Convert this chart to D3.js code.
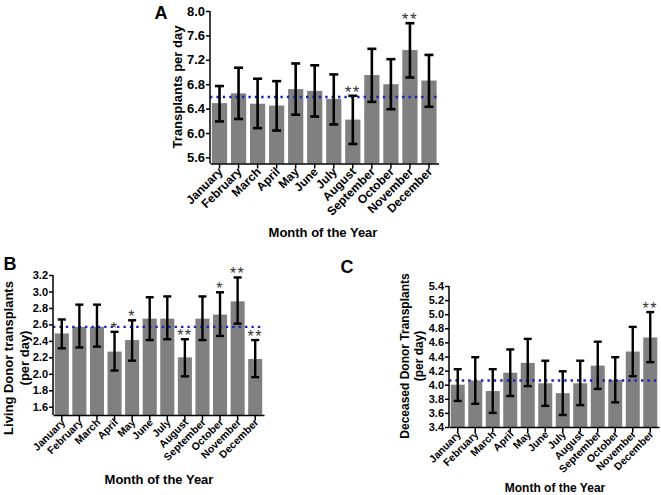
<!DOCTYPE html>
<html>
<head>
<meta charset="utf-8">
<script src="https://cdn.jsdelivr.net/npm/d3@7"></script>
<style>
  html, body { margin: 0; padding: 0; background: #fff; }
  svg { display: block; font-family: Arial, "Liberation Sans", sans-serif; }
</style>
</head>
<body>
<svg id="chart" width="661" height="495"></svg>
<script>
const months = ["January","February","March","April","May","June","July","August","September","October","November","December"];

// Panel A: total transplants per day
const totalMean = [6.49, 6.65, 6.48, 6.45, 6.72, 6.69, 6.56, 6.22, 6.95, 6.80, 7.36, 6.86];
const totalLow  = [6.19, 6.23, 6.08, 6.04, 6.30, 6.27, 6.14, 5.82, 6.51, 6.39, 6.91, 6.43];
const totalHigh = [6.77, 7.07, 6.89, 6.85, 7.14, 7.11, 6.96, 6.61, 7.38, 7.21, 7.80, 7.28];
const totalStars = ["", "", "", "", "", "", "", "**", "", "", "**", ""];
const totalAvg = 6.59;
const totalTicks = [5.6, 6.0, 6.4, 6.8, 7.2, 7.6, 8.0];

// Panel B: living donor transplants per day
const livingMean = [2.49, 2.57, 2.57, 2.27, 2.41, 2.67, 2.67, 2.20, 2.67, 2.72, 2.88, 2.18];
const livingLow  = [2.31, 2.32, 2.33, 2.04, 2.16, 2.41, 2.42, 1.97, 2.41, 2.46, 2.61, 1.96];
const livingHigh = [2.66, 2.84, 2.84, 2.51, 2.65, 2.93, 2.94, 2.42, 2.94, 2.99, 3.17, 2.41];
const livingStars = ["", "", "", "*", "*", "", "", "**", "", "*", "**", "**"];
const livingAvg = 2.57;
const livingTicks = [1.6, 1.8, 2.0, 2.2, 2.4, 2.6, 2.8, 3.0, 3.2];

// Panel C: deceased donor transplants per day
const deceasedMean = [4.00, 4.06, 3.91, 4.17, 4.31, 4.02, 3.88, 4.02, 4.27, 4.07, 4.47, 4.67];
const deceasedLow  = [3.77, 3.73, 3.60, 3.84, 3.98, 3.70, 3.57, 3.71, 3.94, 3.75, 4.12, 4.32];
const deceasedHigh = [4.22, 4.39, 4.22, 4.50, 4.65, 4.34, 4.19, 4.34, 4.61, 4.39, 4.82, 5.03];
const deceasedStars = ["", "", "", "", "", "", "", "", "", "", "", "**"];
const deceasedAvg = 4.06;
const deceasedTicks = [3.4, 3.6, 3.8, 4.0, 4.2, 4.4, 4.6, 4.8, 5.0, 5.2, 5.4];

const svg = d3.select("#chart");

function panel(cfg) {
  const g = svg.append("g");
  const x = d3.scaleBand().domain(months).range([cfg.x0, cfg.x1]).paddingInner(0.2).paddingOuter(0.1);
  const y = d3.scaleLinear().domain(cfg.domain).range([cfg.yb, cfg.yt]);
  const rows = months.map((m, i) => ({m, v: cfg.mean[i], lo: cfg.low[i], hi: cfg.high[i], s: cfg.stars[i]}));

  // bars
  g.selectAll("rect.bar").data(rows).join("rect")
    .attr("x", d => x(d.m)).attr("width", x.bandwidth())
    .attr("y", d => y(d.v)).attr("height", d => y(cfg.domain[0]) - y(d.v))
    .attr("fill", "#808080");

  // mean line
  g.append("line")
    .attr("x1", cfg.x0).attr("x2", cfg.x1)
    .attr("y1", y(cfg.avg)).attr("y2", y(cfg.avg))
    .attr("stroke", "#2222bb").attr("stroke-width", 2.4)
    .attr("stroke-dasharray", "2.4,4");

  // error bars
  const cx = d => x(d.m) + x.bandwidth() / 2;
  const capW = cfg.cap;
  const eb = g.selectAll("g.eb").data(rows).join("g").attr("stroke", "#000").attr("stroke-width", cfg.ew);
  eb.append("line").attr("x1", cx).attr("x2", cx).attr("y1", d => y(d.lo)).attr("y2", d => y(d.hi));
  eb.append("line").attr("x1", d => cx(d) - capW).attr("x2", d => cx(d) + capW).attr("y1", d => y(d.hi)).attr("y2", d => y(d.hi));
  eb.append("line").attr("x1", d => cx(d) - capW).attr("x2", d => cx(d) + capW).attr("y1", d => y(d.lo)).attr("y2", d => y(d.lo));

  // stars
  g.selectAll("text.star").data(rows.filter(d => d.s)).join("text")
    .attr("x", cx).attr("y", d => y(d.hi) + cfg.starDy)
    .attr("text-anchor", "middle")
    .attr("font-size", cfg.starSize).attr("fill", "#333")
    .attr("letter-spacing", "1.5px")
    .text(d => d.s);

  // y axis
  const ya = g.append("g").attr("transform", `translate(${cfg.x0},0)`)
    .call(d3.axisLeft(y).tickValues(cfg.ticks).tickFormat(d3.format(".1f")).tickSize(4).tickSizeOuter(0));
  ya.select(".domain").attr("stroke", "#000").attr("stroke-width", 1.5).attr("d", `M0,${cfg.yb}V${cfg.yt}`);
  ya.selectAll(".tick line").attr("stroke", "#000").attr("stroke-width", 1.5);
  ya.selectAll(".tick text").attr("font-size", cfg.tickSize).attr("font-weight", "bold").attr("fill", "#000").attr("x", -5);

  // x axis
  const xa = g.append("g").attr("transform", `translate(0,${cfg.yb})`)
    .call(d3.axisBottom(x).tickSize(5).tickSizeOuter(0));
  xa.select(".domain").attr("stroke", "#000").attr("stroke-width", 1.5);
  xa.selectAll(".tick line").attr("stroke", "#000").attr("stroke-width", 1.5);
  xa.selectAll(".tick text")
    .attr("font-size", cfg.monthSize).attr("font-weight", "bold").attr("fill", "#000")
    .attr("text-anchor", "end").attr("y", 0).attr("dy", 0)
    .attr("transform", `translate(4,${cfg.monthDy}) rotate(-45)`);

  // x title
  g.append("text").attr("x", cfg.xtX).attr("y", cfg.xtY)
    .attr("text-anchor", "middle").attr("font-size", cfg.titleSize).attr("font-weight", "bold")
    .text("Month of the Year");

  // y title
  const yt = g.append("text").attr("transform", `translate(${cfg.ytX},${cfg.ytY}) rotate(-90)`)
    .attr("text-anchor", "middle").attr("font-size", cfg.titleSize).attr("font-weight", "bold");
  cfg.ytitle.forEach((t, i) => yt.append("tspan").attr("x", 0).attr("dy", i === 0 ? 0 : "1.2em").text(t));

  // panel letter
  g.append("text").attr("x", cfg.lx).attr("y", cfg.ly).attr("text-anchor", "middle")
    .attr("font-size", 18).attr("font-weight", "bold").text(cfg.letter);
}

panel({
  mean: totalMean, low: totalLow, high: totalHigh, stars: totalStars, avg: totalAvg, ticks: totalTicks,
  domain: [5.5, 8.0], x0: 210, x1: 438.5, yt: 11, yb: 163.5,
  cap: 4.5, ew: 2.6, starSize: 17, starDy: 2, tickSize: 13, monthSize: 12, monthDy: 9, titleSize: 13,
  xtX: 323, xtY: 237, ytX: 182, ytY: 87, ytitle: ["Transplants per day"],
  letter: "A", lx: 161, ly: 19
});

panel({
  mean: livingMean, low: livingLow, high: livingHigh, stars: livingStars, avg: livingAvg, ticks: livingTicks,
  domain: [1.5, 3.2], x0: 53, x1: 264, yt: 275, yb: 415,
  cap: 4, ew: 2.4, starSize: 16, starDy: 2, tickSize: 11, monthSize: 10.5, monthDy: 8, titleSize: 13,
  xtX: 159, xtY: 484, ytX: 13, ytY: 358, ytitle: ["Living Donor transplants", "(per day)"],
  letter: "B", lx: 10, ly: 270
});

panel({
  mean: deceasedMean, low: deceasedLow, high: deceasedHigh, stars: deceasedStars, avg: deceasedAvg, ticks: deceasedTicks,
  domain: [3.4, 5.4], x0: 449, x1: 659, yt: 286, yb: 427,
  cap: 4, ew: 2.4, starSize: 16, starDy: 2, tickSize: 11, monthSize: 10.5, monthDy: 8, titleSize: 12,
  xtX: 555, xtY: 492, ytX: 409, ytY: 356, ytitle: ["Deceased Donor Transplants", "(per day)"],
  letter: "C", lx: 347, ly: 273
});
</script>
</body>
</html>
